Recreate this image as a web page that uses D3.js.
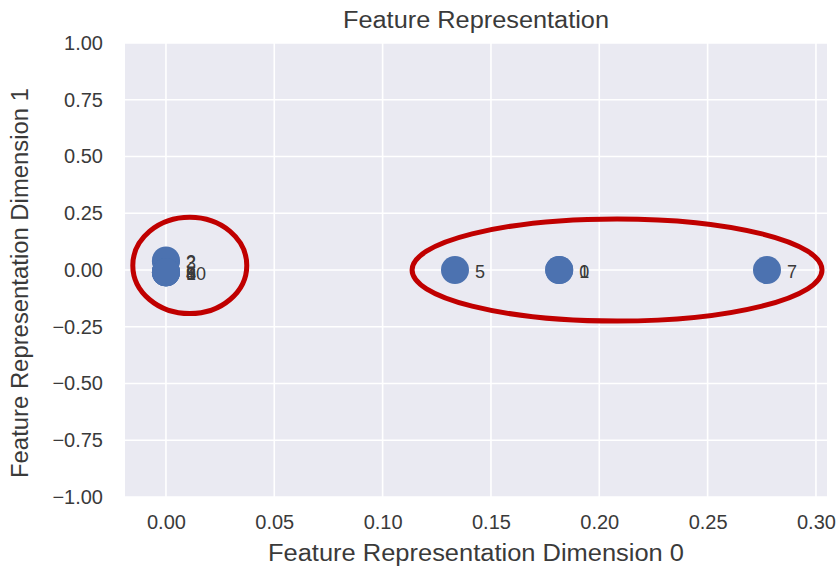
<!DOCTYPE html>
<html>
<head>
<meta charset="utf-8">
<script src="https://cdn.jsdelivr.net/npm/d3@7/dist/d3.min.js"></script>
<style>
  html, body { margin: 0; padding: 0; background: #ffffff; }
  svg { display: block; font-family: "Liberation Sans", Arial, sans-serif; }
</style>
</head>
<body>
<svg id="chart" width="840" height="571"></svg>
<script>
// Point index labels and their 2-D feature coordinates
const pointLabels = ["0", "1", "2", "3", "4", "5", "6", "7", "8", "9", "10"];
const dim0Values = [0.1815, 0.1815, 0.0, 0.0, 0.0, 0.1334, 0.0, 0.2774, 0.0, 0.0, 0.0];
const dim1Values = [0.0, 0.0, 0.042, 0.038, -0.01, 0.0, -0.01, 0.0, -0.01, -0.01, -0.01];

// Axis ticks
const xTicks = [0.0, 0.05, 0.10, 0.15, 0.20, 0.25, 0.30];
const yTicks = [-1.0, -0.75, -0.5, -0.25, 0.0, 0.25, 0.5, 0.75, 1.0];

// Highlight ellipses around the two groups (centre x, centre y, radius x, radius y in data units)
const ellipseCx = [0.011, 0.2082];
const ellipseCy = [0.02, 0.0];
const ellipseRx = [0.0263, 0.0946];
const ellipseRy = [0.212, 0.225];

const svg = d3.select("#chart");
const margin = { left: 125, right: 13, top: 43, bottom: 74 };
const W = 840, H = 571;
const ink = "#3a3a3a";

const x = d3.scaleLinear().domain([-0.0189, 0.3051]).range([margin.left, W - margin.right]);
const y = d3.scaleLinear().domain([-1, 1]).range([H - margin.bottom, margin.top]);

// plot background
svg.append("rect")
  .attr("x", margin.left).attr("y", margin.top)
  .attr("width", W - margin.left - margin.right)
  .attr("height", H - margin.top - margin.bottom)
  .attr("fill", "#eaeaf2");

// grid lines
const grid = svg.append("g");
grid.selectAll("line.gx").data(xTicks).join("line")
  .attr("x1", d => x(d)).attr("x2", d => x(d))
  .attr("y1", margin.top).attr("y2", H - margin.bottom)
  .attr("stroke", "#ffffff").attr("stroke-width", 1.6);
grid.selectAll("line.gy").data(yTicks).join("line")
  .attr("y1", d => y(d)).attr("y2", d => y(d))
  .attr("x1", margin.left).attr("x2", W - margin.right)
  .attr("stroke", "#ffffff").attr("stroke-width", 1.6);

// axes (labels only, seaborn style)
const xAxis = svg.append("g")
  .attr("transform", `translate(0,${H - margin.bottom})`)
  .call(d3.axisBottom(x).tickValues(xTicks).tickFormat(d3.format(".2f")).tickSize(0).tickPadding(18));
const yAxis = svg.append("g")
  .attr("transform", `translate(${margin.left},0)`)
  .call(d3.axisLeft(y).tickValues(yTicks).tickFormat(d => d3.format(".2f")(d).replace("-", "\u2212")).tickSize(0).tickPadding(22));
[xAxis, yAxis].forEach(a => {
  a.select(".domain").remove();
  a.selectAll("text").attr("fill", ink).style("font-size", "20px")
    .style("font-family", "'Liberation Sans', Arial, sans-serif");
});

// points
const data = pointLabels.map((l, i) => ({ label: l, x: dim0Values[i], y: dim1Values[i] }));
svg.append("g").selectAll("circle").data(data).join("circle")
  .attr("cx", d => x(d.x)).attr("cy", d => y(d.y))
  .attr("r", 14)
  .attr("fill", "#4c72b0");

// point labels
svg.append("g").selectAll("text").data(data).join("text")
  .attr("x", d => x(d.x) + 20).attr("y", d => y(d.y) + 8)
  .attr("fill", ink)
  .style("font-size", "18px")
  .text(d => d.label);

// highlight ellipses
svg.append("g").selectAll("ellipse").data(ellipseCx).join("ellipse")
  .attr("cx", (d, i) => x(d))
  .attr("cy", (d, i) => y(ellipseCy[i]))
  .attr("rx", (d, i) => x(ellipseRx[i]) - x(0))
  .attr("ry", (d, i) => y(0) - y(ellipseRy[i]))
  .attr("fill", "none")
  .attr("stroke", "#c00000")
  .attr("stroke-width", 5);

// titles
svg.append("text")
  .attr("x", 476).attr("y", 28)
  .attr("text-anchor", "middle").attr("fill", ink)
  .attr("textLength", 266).attr("lengthAdjust", "spacingAndGlyphs")
  .style("font-size", "23px")
  .text("Feature Representation");
svg.append("text")
  .attr("x", 476).attr("y", 561)
  .attr("text-anchor", "middle").attr("fill", ink)
  .attr("textLength", 416).attr("lengthAdjust", "spacingAndGlyphs")
  .style("font-size", "23px")
  .text("Feature Representation Dimension 0");
svg.append("text")
  .attr("transform", `translate(28,${283}) rotate(-90)`)
  .attr("text-anchor", "middle").attr("fill", ink)
  .attr("textLength", 390).attr("lengthAdjust", "spacingAndGlyphs")
  .style("font-size", "23px")
  .text("Feature Representation Dimension 1");
</script>
</body>
</html>
